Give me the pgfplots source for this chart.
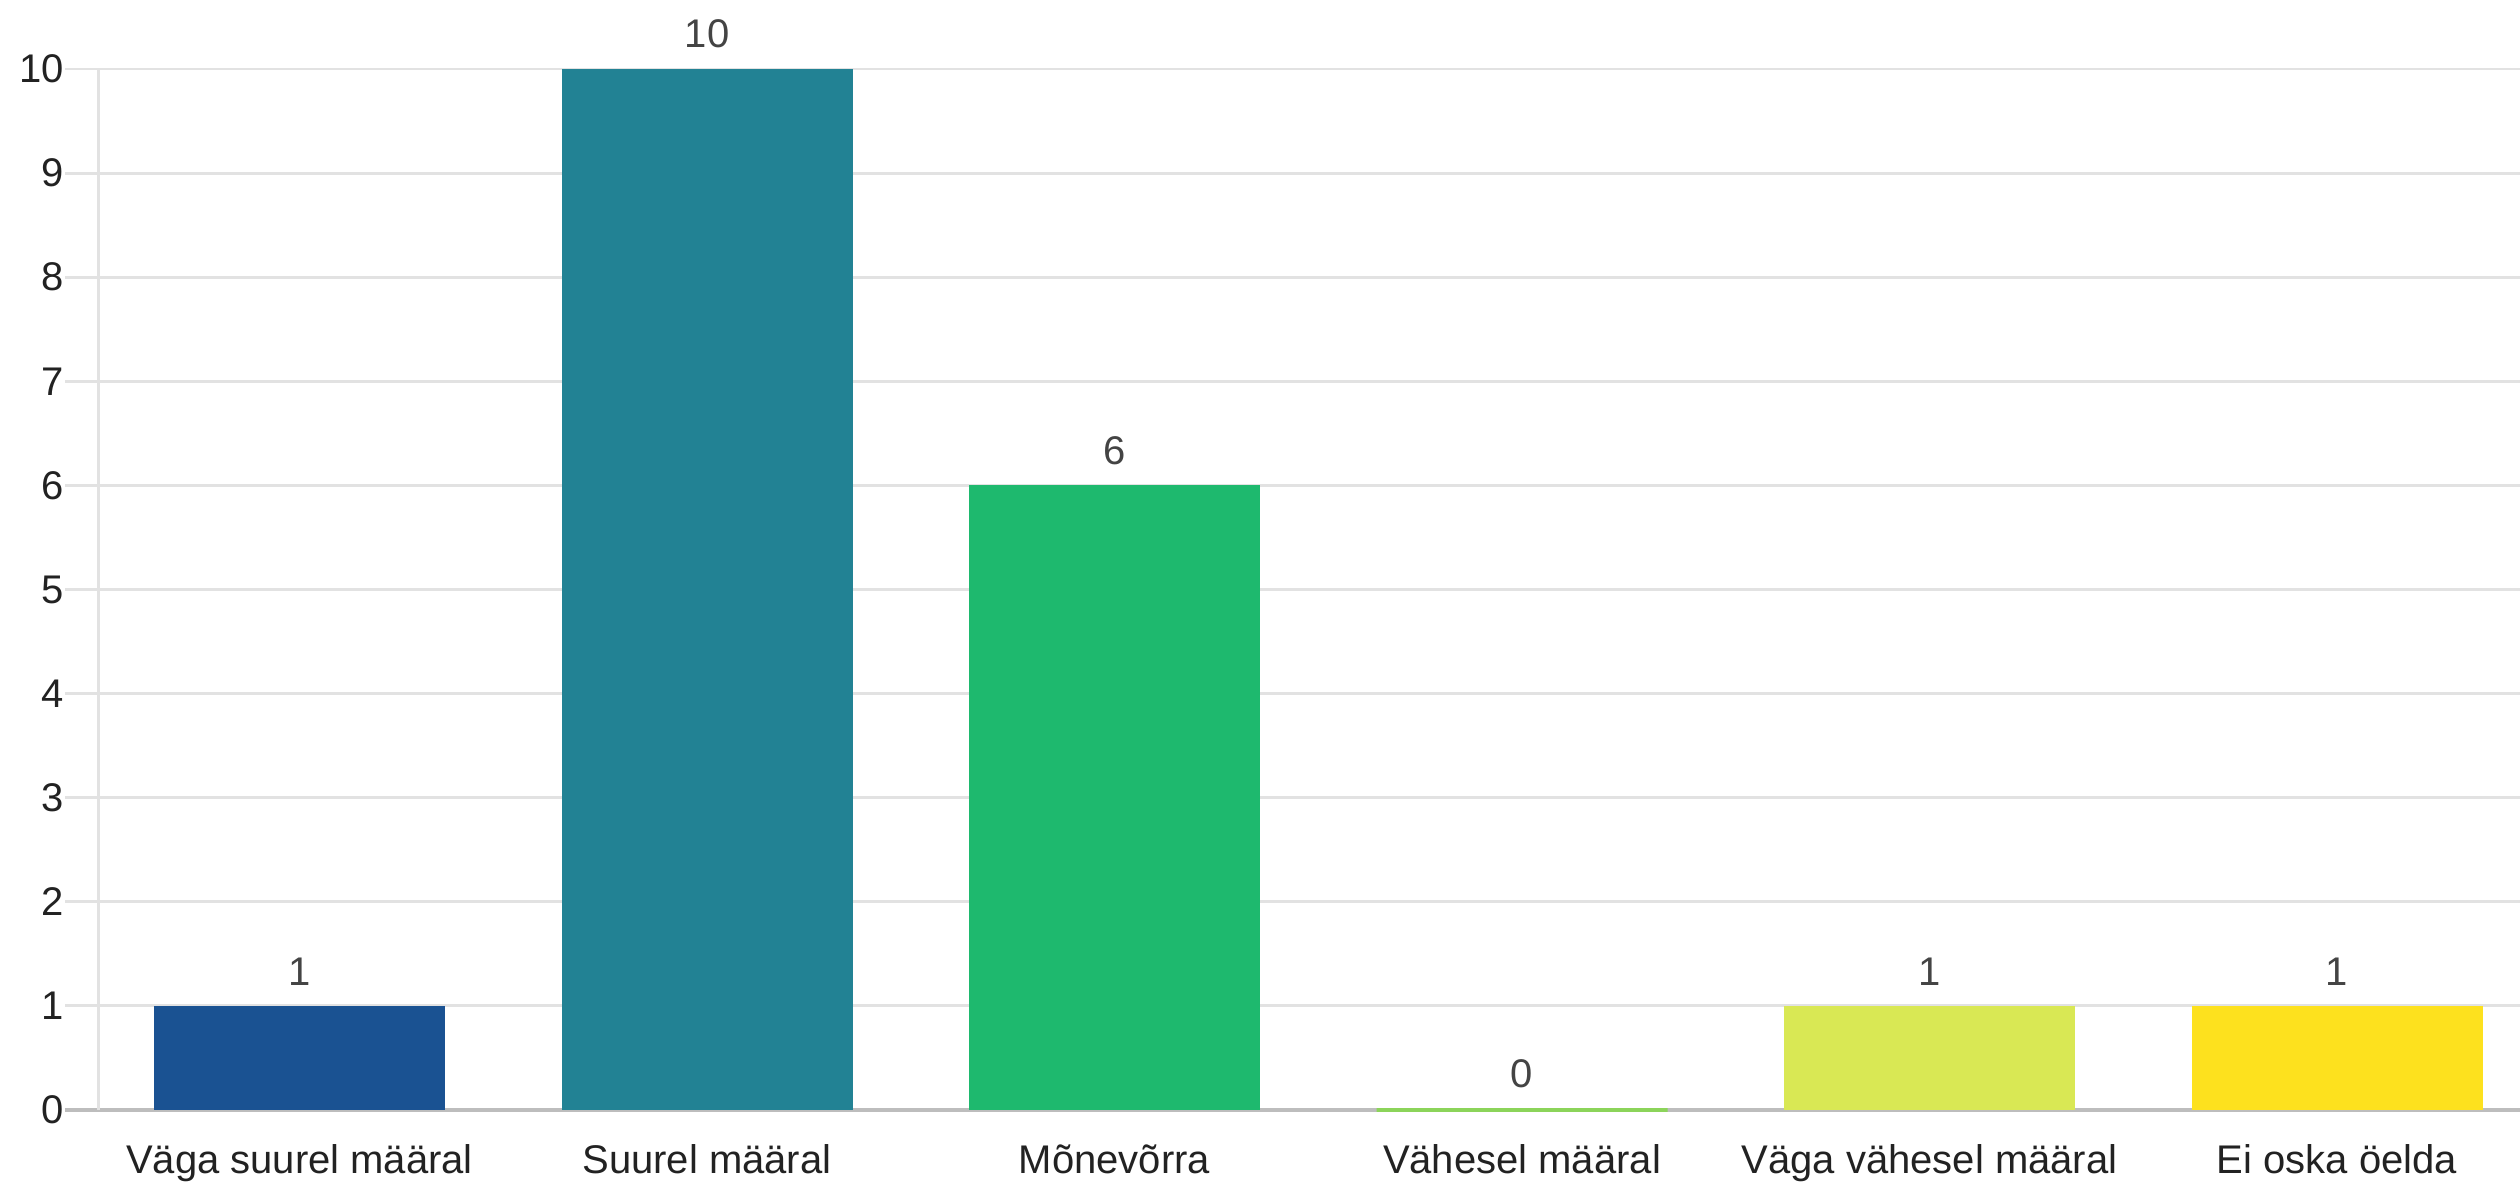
\documentclass[border=0pt]{standalone}
\usepackage{fontspec}
\setmainfont{Liberation Sans}
\usepackage{pgfplots}
\pgfplotsset{compat=1.18}
\definecolor{c1}{HTML}{1A5292}
\definecolor{c2}{HTML}{228294}
\definecolor{c3}{HTML}{1EB96E}
\definecolor{c4}{HTML}{8CD45A}
\definecolor{c5}{HTML}{D9E854}
\definecolor{c6}{HTML}{FDE11E}
\definecolor{gridgray}{HTML}{E2E2E2}
\definecolor{basegray}{HTML}{BDBDBD}
\definecolor{valgray}{HTML}{444444}
\definecolor{labblack}{HTML}{222222}
\begin{document}
\fontsize{10}{12}\selectfont
\begin{tikzpicture}
\begin{axis}[
  at={(0,0)}, anchor=south west,
  scale only axis, width=606.06pt, height=277.5pt,
  xmin=-0.5, xmax=5.449, ymin=0, ymax=10.663,
  axis line style={draw=none},
  clip=false,
  /pgf/number format/assume math mode=true,
  ytick={0,1,2,3,4,5,6,7,8,9,10},
  ytick pos=left, xtick pos=bottom,
  tick align=outside,
  major tick length=7.7pt,
  ytick style={draw=gridgray, line width=0.7pt},
  xtick style={draw=none},
  ymajorgrids,
  grid style={gridgray, line width=0.7pt},
  xtick={0,1,2,3,4,5},
  xticklabels={Väga suurel määral, Suurel määral, Mõnevõrra, Vähesel määral, Väga vähesel määral, Ei oska öelda},
  xticklabel style={anchor=base, inner sep=0pt, yshift=-8.3pt, text=labblack, font=\fontsize{10}{12}\selectfont},
  yticklabel style={anchor=east, inner sep=0pt, text=labblack, font=\fontsize{10}{12}\selectfont},
  ybar, bar width=72.75pt, bar shift=0pt,
  nodes near coords,
  every node near coord/.append style={anchor=south, inner sep=0pt, yshift=5pt, text=valgray, font=\fontsize{10}{12}\selectfont},
]
\draw[basegray, line width=1.1pt] ([xshift=-7.7pt]axis cs:-0.5,0) -- (axis cs:5.449,0);
\draw[gridgray, line width=0.7pt] (axis cs:-0.494,0) -- (axis cs:-0.494,10);
\addplot[fill=c1, draw=none] coordinates {(0,1)};
\addplot[fill=c2, draw=none] coordinates {(1,10)};
\addplot[fill=c3, draw=none] coordinates {(2,6)};
\addplot[fill=c4, draw=c4, line width=1pt] coordinates {(3,0)};
\addplot[fill=c5, draw=none] coordinates {(4,1)};
\addplot[fill=c6, draw=none] coordinates {(5,1)};
\end{axis}
\pgfresetboundingbox
\path (-23.94pt,-19pt) rectangle (606.06pt,277.5pt);
\end{tikzpicture}
\end{document}
